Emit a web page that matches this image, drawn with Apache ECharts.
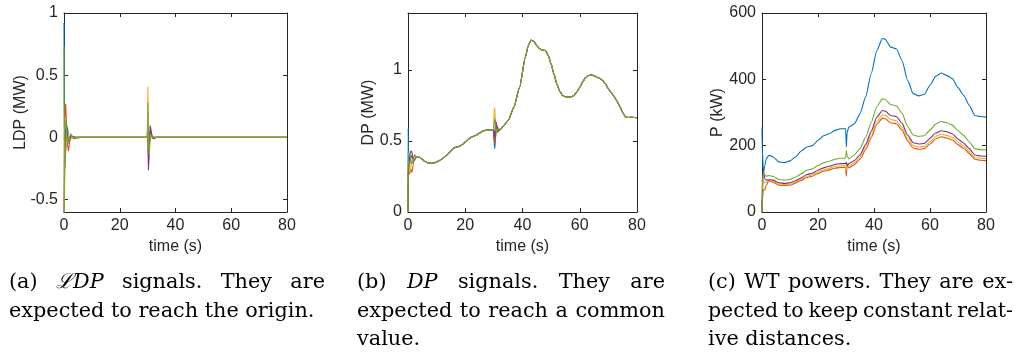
<!DOCTYPE html>
<html>
<head>
<meta charset="utf-8">
<script src="https://cdn.jsdelivr.net/npm/echarts@6/dist/echarts.min.js"></script>
<style>
  html, body { margin: 0; padding: 0; background: #fff; }
  #chart { width: 1027px; height: 356px; }
</style>
</head>
<body>
<div id="chart"></div>
<script>
// ---------------- DATA ----------------
const seriesNames = ['WT1', 'WT2', 'WT3', 'WT4', 'WT5'];
const xTicks = [0, 20, 40, 60, 80];
const yTicksA = [-0.5, 0, 0.5, 1];
const yTicksB = [0, 0.5, 1];
const yTicksC = [0, 200, 400, 600];

// (a) LDP signals (MW)
const tA = [0, 0.1, 0.3, 0.6, 0.9, 1.2, 1.6, 2.0, 2.4, 2.8, 3.3, 4, 6, 29.9, 30.1, 30.3, 30.6, 30.9, 31.2, 31.6, 32.0, 32.5, 33.2, 35, 80];
const ldp1 = [0.92, 0.30, -0.24, -0.12, 0.05, 0.08, 0.02, -0.03, -0.01, 0.01, 0, 0, 0, 0, 0.20, -0.15, -0.08, 0.04, 0.03, 0.0, -0.01, 0, 0, 0, 0];
const ldp2 = [-0.80, -0.30, 0.15, 0.27, 0.12, -0.05, -0.11, -0.04, 0.03, 0.02, -0.01, 0, 0, 0, 0.10, -0.20, -0.10, 0.05, 0.04, 0.01, 0, 0, 0, 0, 0];
const ldp3 = [-0.75, -0.60, -0.20, -0.10, 0.04, 0.05, 0.02, -0.02, 0.01, 0, 0, 0, 0, 0, 0.41, -0.10, -0.12, 0.03, 0.02, -0.01, 0, 0, 0, 0, 0];
const ldp4 = [-0.70, -0.50, -0.10, 0.08, 0.10, 0.02, -0.04, -0.02, 0.01, 0, 0, 0, 0, 0, 0.05, -0.265, -0.10, 0.095, 0.06, 0.01, -0.01, 0, 0, 0, 0];
const ldp5 = [0.73, -0.65, 0.05, 0.135, 0.06, -0.03, -0.05, 0.0, 0.02, 0, 0, 0, 0, 0, 0.28, -0.05, -0.15, 0.02, 0.03, 0.01, 0, 0, 0, 0, 0];

// (b) DP signals (MW)
const tB0 = [0, 0.05, 0.3, 0.6, 1.0, 1.4, 1.8, 2.2, 2.7, 3.2];
const dp0_1 = [0, 0.59, 0.26, 0.33, 0.40, 0.38, 0.37, 0.39, 0.39, 0.385];
const dp0_2 = [0, 0.35, 0.30, 0.27, 0.30, 0.28, 0.33, 0.40, 0.395, 0.385];
const dp0_3 = [0, 0.30, 0.36, 0.28, 0.32, 0.35, 0.38, 0.39, 0.39, 0.385];
const dp0_4 = [0, 0.25, 0.34, 0.40, 0.43, 0.42, 0.37, 0.36, 0.38, 0.385];
const dp0_5 = [0, 0.42, 0.40, 0.41, 0.37, 0.34, 0.36, 0.38, 0.39, 0.385];
const tBmid = [4, 5, 6, 7, 8, 9, 10, 11, 12, 13, 14, 15, 16, 17, 18, 19, 20, 21, 22, 23, 24, 25, 26, 27, 28, 29, 29.9];
const dpMid = [0.385, 0.37, 0.355, 0.345, 0.343, 0.345, 0.352, 0.362, 0.375, 0.39, 0.41, 0.43, 0.45, 0.458, 0.462, 0.475, 0.492, 0.51, 0.525, 0.535, 0.542, 0.555, 0.567, 0.575, 0.578, 0.578, 0.578];
const tB30 = [30.05, 30.3, 30.6, 30.9, 31.3, 31.7, 32.2];
const dp30_1 = [0.50, 0.446, 0.52, 0.60, 0.60, 0.575, 0.58];
const dp30_2 = [0.52, 0.48, 0.55, 0.62, 0.59, 0.57, 0.58];
const dp30_3 = [0.70, 0.735, 0.63, 0.55, 0.57, 0.585, 0.58];
const dp30_4 = [0.56, 0.52, 0.64, 0.62, 0.56, 0.575, 0.58];
const dp30_5 = [0.63, 0.656, 0.60, 0.56, 0.575, 0.585, 0.58];
const tBtail = [33, 35, 37, 39, 41, 42, 43, 44, 45, 46, 47, 48, 49, 50, 51, 52, 53, 54, 55, 56, 57, 58, 59, 60, 61, 62, 63, 64, 65, 66, 67, 68, 69, 70, 71, 72, 73, 74, 75, 76, 77, 78, 79, 80];
const dpTail = [0.597, 0.644, 0.738, 0.878, 1.09, 1.17, 1.21, 1.20, 1.17, 1.148, 1.14, 1.136, 1.10, 1.04, 0.97, 0.90, 0.85, 0.82, 0.81, 0.808, 0.81, 0.82, 0.845, 0.878, 0.915, 0.944, 0.96, 0.965, 0.958, 0.948, 0.94, 0.925, 0.90, 0.867, 0.84, 0.813, 0.78, 0.742, 0.70, 0.667, 0.665, 0.667, 0.665, 0.663];

// (c) WT powers (kW)
const tC = [0, 0.05, 0.5, 1.0, 1.5, 2.5, 4, 6, 8, 10, 12, 14, 16, 18, 20, 22, 24, 26, 28, 29.9, 30.1, 30.4, 31, 33, 35, 37, 39, 41, 43, 44, 46, 48, 50, 52, 54, 56, 58, 60, 62, 64, 66, 68, 70, 72, 74, 76, 78, 80];
const p1 = [255, 200, 118, 140, 160, 171, 166, 151, 149, 154, 166, 184, 196, 200, 216, 230, 236, 246, 251, 251, 196, 240, 256, 266, 296, 347, 417, 487, 523, 521, 497, 492, 457, 397, 357, 350, 355, 382, 409, 419, 412, 402, 375, 352, 322, 291, 288, 286];
const p2 = [0, 30, 68, 66, 80, 95, 89, 81, 80, 81, 87, 95, 104, 108, 116, 123, 127, 132, 134, 134, 108, 140, 133, 143, 159, 187, 224, 264, 283, 281, 269, 266, 247, 214, 193, 189, 191, 205, 220, 227, 223, 217, 203, 192, 176, 159, 156, 155];
const p3 = [0, 40, 95, 88, 90, 95, 92, 84, 83, 84, 90, 99, 108, 112, 120, 127, 132, 137, 139, 139, 125, 145, 138, 148, 164, 194, 232, 273, 293, 292, 279, 275, 256, 222, 200, 196, 198, 212, 228, 235, 231, 225, 211, 199, 182, 164, 162, 161];
const p4 = [0, 90, 125, 100, 96, 97, 96, 88, 86, 88, 94, 103, 113, 117, 126, 133, 138, 143, 146, 146, 150, 140, 146, 155, 172, 203, 243, 286, 306, 304, 291, 288, 268, 232, 209, 205, 207, 222, 238, 245, 242, 236, 220, 208, 191, 172, 169, 168];
const p5 = [0, 60, 120, 112, 108, 110, 107, 98, 96, 98, 105, 115, 126, 130, 140, 148, 153, 159, 162, 162, 185, 170, 160, 172, 191, 225, 270, 318, 341, 339, 324, 320, 298, 258, 232, 228, 230, 247, 265, 273, 269, 262, 245, 231, 212, 191, 188, 187];

// captions
const capA = { left: 9, right: 325, lines: [
  { words: ['(a)', {t: '\u2112DP', i: true}, 'signals.', 'They', 'are'], justify: true },
  { words: ['expected', 'to', 'reach', 'the', 'origin.'], justify: false } ] };
const capB = { left: 357, right: 665, lines: [
  { words: ['(b)', {t: 'DP', i: true}, 'signals.', 'They', 'are'], justify: true },
  { words: ['expected', 'to', 'reach', 'a', 'common'], justify: true },
  { words: ['value.'], justify: false } ] };
const capC = { left: 708, right: 1013, lines: [
  { words: ['(c)', 'WT', 'powers.', 'They', 'are', 'ex-'], justify: true },
  { words: ['pected', 'to', 'keep', 'constant', 'relat-'], justify: true },
  { words: ['ive', 'distances.'], justify: false } ] };

// ---------------- STYLE / LAYOUT ----------------
const colors = ['#0072BD', '#D95319', '#EDB120', '#7E2F8E', '#77AC30'];
const AX = '#262626';
const SANS = '"Liberation Sans", Helvetica, Arial, sans-serif';
const SERIF = '"DejaVu Serif", "Liberation Serif", serif';
const grids = [
  { left: 64, top: 13, width: 223, height: 199 },
  { left: 408, top: 13, width: 229, height: 199 },
  { left: 762, top: 13, width: 224, height: 199 }
];
const yNames = ['LDP (MW)', 'DP (MW)', 'P (kW)'];
const yNameGaps = [35, 31, 36];
const yRanges = [[-0.6, 1, yTicksA], [0, 1.4, yTicksB], [0, 600, yTicksC]];

const xAxes = [], yAxes = [];
grids.forEach((g, i) => {
  const common = {
    gridIndex: i, type: 'value', min: 0, max: 80,
    axisLine: { show: true, onZero: false, lineStyle: { color: AX, width: 1 } },
    axisTick: { show: true, inside: true, length: 4, customValues: xTicks, lineStyle: { color: AX } },
    splitLine: { show: false }
  };
  xAxes.push(Object.assign({}, common, {
    position: 'bottom',
    axisLabel: { show: true, customValues: xTicks, color: AX, fontSize: 16, fontFamily: SANS, margin: 6 },
    name: 'time (s)', nameLocation: 'middle', nameGap: 27, nameMoveOverlap: false,
    nameTextStyle: { color: AX, fontSize: 16, fontFamily: SANS }
  }));
  xAxes.push(Object.assign({}, common, { position: 'top', axisLabel: { show: false } }));
  const [mn, mx, ticks] = yRanges[i];
  const ycommon = {
    gridIndex: i, type: 'value', min: mn, max: mx,
    axisLine: { show: true, onZero: false, lineStyle: { color: AX, width: 1 } },
    axisTick: { show: true, inside: true, length: 4, customValues: ticks, lineStyle: { color: AX } },
    splitLine: { show: false }
  };
  yAxes.push(Object.assign({}, ycommon, {
    position: 'left',
    axisLabel: { show: true, customValues: ticks, color: AX, fontSize: 16, fontFamily: SANS, margin: 6 },
    name: yNames[i], nameLocation: 'middle', nameGap: yNameGaps[i], nameRotate: 90, nameMoveOverlap: false,
    nameTextStyle: { color: AX, fontSize: 16, fontFamily: SANS }
  }));
  yAxes.push(Object.assign({}, ycommon, { position: 'right', axisLabel: { show: false } }));
});

function pairs(ts, vs) { return ts.map((t, k) => [t, vs[k]]); }

const series = [];
const ldpAll = [ldp1, ldp2, ldp3, ldp4, ldp5];
const dp0All = [dp0_1, dp0_2, dp0_3, dp0_4, dp0_5];
const dp30All = [dp30_1, dp30_2, dp30_3, dp30_4, dp30_5];
const pAll = [p1, p2, p3, p4, p5];
const tB = [].concat(tB0, tBmid, tB30, tBtail);
function lineSeries(name, gi, data, k, smooth) {
  return {
    name: name, type: 'line', xAxisIndex: gi * 2, yAxisIndex: gi * 2,
    data: data, showSymbol: false, symbol: 'none', smooth: smooth, smoothMonotone: 'x',
    clip: true, lineStyle: { color: colors[k], width: 1.1 }, itemStyle: { color: colors[k] },
    animation: false, silent: true
  };
}
for (let k = 0; k < 5; k++) series.push(lineSeries(seriesNames[k], 0, pairs(tA, ldpAll[k]), k, false));
for (let k = 0; k < 5; k++) series.push(lineSeries(seriesNames[k], 1, pairs(tB, [].concat(dp0All[k], dpMid, dp30All[k], dpTail)), k, 0.2));
for (let k = 0; k < 5; k++) series.push(lineSeries(seriesNames[k], 2, pairs(tC, pAll[k]), k, 0.2));

// ---------------- CAPTIONS (justified text) ----------------
const ctx = document.createElement('canvas').getContext('2d');
function fontStr(italic, size) { return (italic ? 'italic ' : '') + size + 'px ' + SERIF; }
function measure(text, italic, size) { ctx.font = fontStr(italic, size); return ctx.measureText(text).width; }
const refW = measure('expected to reach the origin.', false, 20);
const capSize = Math.round(20 * 306 / refW * 10) / 10;
const lineYs = [283, 311.5, 340];
const graphics = [];
function wordOf(w) { return typeof w === 'string' ? { t: w, i: false } : w; }
[capA, capB, capC].forEach(cap => {
  cap.lines.forEach((ln, li) => {
    const ws = ln.words.map(wordOf);
    const space = measure(' ', false, capSize);
    let widths = ws.map(w => measure(w.t, w.i, capSize));
    let total = widths.reduce((a, b) => a + b, 0);
    const avail = cap.right - cap.left;
    let sx = 1;
    const minGap = 0.75 * space;
    if (ln.justify && ws.length > 1 && total + (ws.length - 1) * minGap > avail) {
      sx = avail / (total + (ws.length - 1) * minGap);
    }
    widths = widths.map(w => w * sx);
    total = total * sx;
    const gap = (ln.justify && ws.length > 1) ? (avail - total) / (ws.length - 1) : space;
    let x = cap.left;
    ws.forEach((w, wi) => {
      graphics.push({
        type: 'text', x: x, y: lineYs[li], scaleX: sx, silent: true,
        style: { text: w.t, font: fontStr(w.i, capSize), fill: '#000', align: 'left', verticalAlign: 'middle' }
      });
      x += widths[wi] + gap;
    });
  });
});

const chart = echarts.init(document.getElementById('chart'), null, { renderer: 'canvas' });
chart.setOption({
  backgroundColor: '#fff',
  animation: false,
  grid: grids.map(g => Object.assign({ containLabel: false, outerBoundsMode: 'none' }, g)),
  xAxis: xAxes,
  yAxis: yAxes,
  series: series,
  graphic: graphics
});
</script>
</body>
</html>
